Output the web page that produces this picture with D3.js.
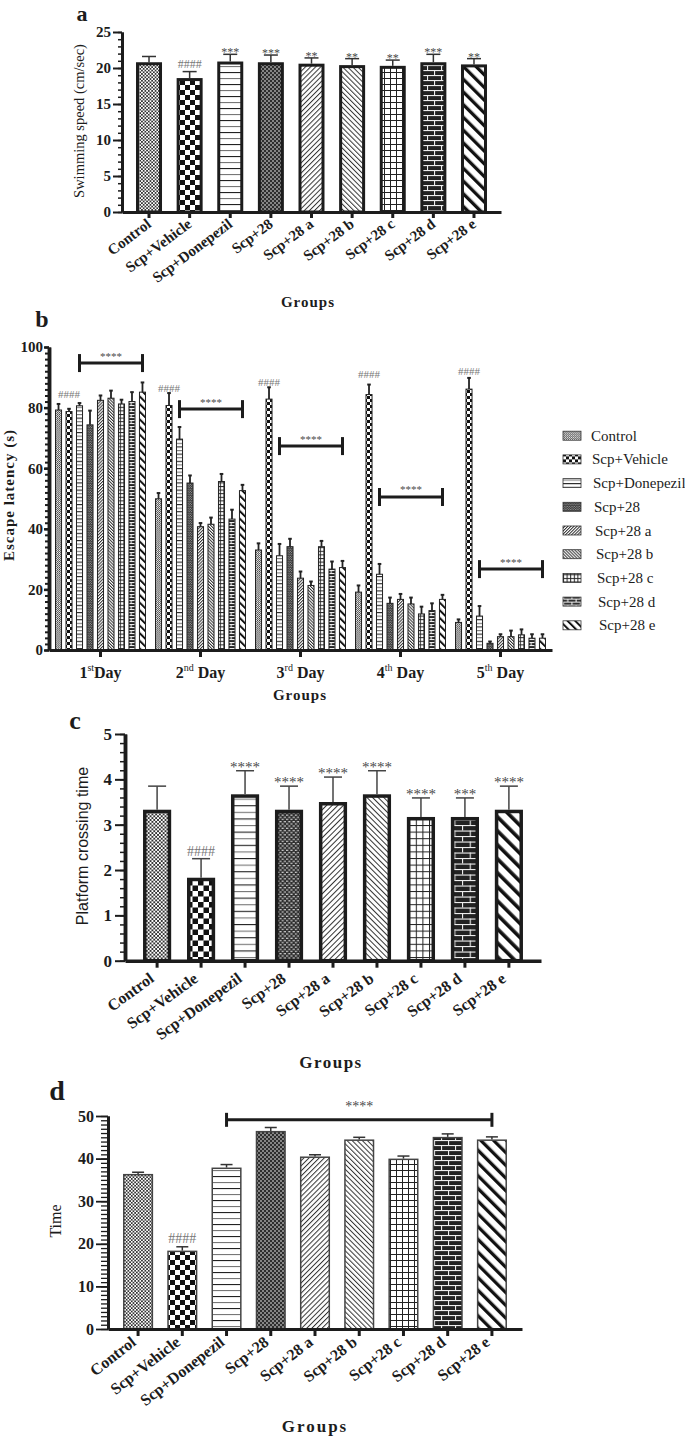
<!DOCTYPE html>
<html><head><meta charset="utf-8">
<script src="https://cdn.jsdelivr.net/npm/d3@7"></script>
<style>body{margin:0;background:#fff}svg{display:block}</style>
</head><body><svg id="chart" width="685" height="1436"></svg>
<script>
// ---------------- DATA ----------------
const groups = ["Control","Scp+Vehicle","Scp+Donepezil","Scp+28","Scp+28 a","Scp+28 b","Scp+28 c","Scp+28 d","Scp+28 e"];

// panel a : swimming speed
const speedMean = [20.8,18.6,20.9,20.8,20.6,20.4,20.3,20.8,20.5];
const speedErr  = [0.8,0.9,1.0,1.0,0.8,0.9,0.8,1.1,0.8];
const speedSig  = ["","####","***","***","**","**","**","***","**"];
const speedTicks = [0,5,10,15,20,25];

// panel b : escape latency
const days = ["1st Day","2nd Day","3rd Day","4th Day","5th Day"];
const dayNum = ["1","2","3","4","5"];
const daySup = ["st","nd","rd","th","th"];
const dayWord = ["Day"," Day"," Day"," Day"," Day"];
const latencyDay1 = [79.2,78.7,80.6,74.3,82.4,83.1,81.2,82.0,85.1];
const latencyErrDay1 = [2.0,0.9,0.9,4.7,1.6,2.5,1.4,3.1,3.2];
const latencyDay2 = [49.9,80.7,69.6,55.1,40.7,41.5,55.6,43.2,52.6];
const latencyErrDay2 = [1.9,4.1,4.0,2.5,1.2,2.2,2.5,3.1,1.9];
const latencyDay3 = [33.0,82.8,31.1,34.1,23.7,21.3,34.1,26.7,27.2];
const latencyErrDay3 = [2.2,3.9,3.9,2.6,2.2,1.3,1.9,2.5,2.2];
const latencyDay4 = [19.1,84.3,25.0,15.4,16.7,15.2,11.9,13.0,16.7];
const latencyErrDay4 = [2.2,3.3,3.4,1.9,1.8,2.1,2.4,2.4,1.5];
const latencyDay5 = [9.1,86.1,11.2,2.2,4.4,4.4,5.0,3.9,3.9];
const latencyErrDay5 = [1.0,3.7,3.3,0.6,0.8,2.0,1.8,1.3,1.3];
const latencyMeans = [latencyDay1,latencyDay2,latencyDay3,latencyDay4,latencyDay5];
const latencyErrs = [latencyErrDay1,latencyErrDay2,latencyErrDay3,latencyErrDay4,latencyErrDay5];
const latencyHash = ["####","####","####","####","####"];
const latencyHashAt = [83.2,85.3,87.1,89.9,90.9];
const latencyBracket = [94.7,79.5,67.3,50.5,26.7];
const latencyBracketSig = ["****","****","****","****","****"];
const latencyTicks = [0,20,40,60,80,100];

// panel c : platform crossing
const crossMean = [3.33,1.83,3.67,3.33,3.5,3.67,3.17,3.17,3.33];
const crossErr  = [0.52,0.42,0.52,0.52,0.55,0.52,0.42,0.42,0.52];
const crossSig  = ["","####","****","****","****","****","****","***","****"];
const crossTicks = [0,1,2,3,4,5];

// panel d : time
const timeMean = [36.4,18.4,37.9,46.5,40.5,44.5,40.0,45.1,44.5];
const timeErr  = [0.4,0.9,0.7,0.8,0.4,0.5,0.6,0.7,0.6];
const timeSig  = ["","####","","","","","","",""];
const timeTicks = [0,10,20,30,40,50];
const timeBracket = 49.1;
const timeBracketSig = "****";

// ---------------- SETUP ----------------
const svg = d3.select("#chart");
svg.append("rect").attr("width",685).attr("height",1436).attr("fill","#fff");
const defs = svg.append("defs");
const SERIF = "'Liberation Serif','Times New Roman',serif";
const SANS = "'Liberation Sans',Arial,sans-serif";
const INK = "#1c1c1c";
const STAR = "#4a4a4a", HASH = "#777";

function addPatterns(prefix, s){
  const P = (i,w,h,rot)=>{
    const p = defs.append("pattern").attr("id",prefix+i).attr("patternUnits","userSpaceOnUse").attr("width",w).attr("height",h);
    if(rot) p.attr("patternTransform",`rotate(${rot})`);
    return p;
  };
  let p;
  p = P(0,3.4*s,3.4*s); p.append("rect").attr("width",3.4*s).attr("height",3.4*s).attr("fill","#fff");
  p.append("rect").attr("width",1.7*s).attr("height",1.7*s).attr("fill","#333");
  p.append("rect").attr("x",1.7*s).attr("y",1.7*s).attr("width",1.7*s).attr("height",1.7*s).attr("fill","#333");
  p = P(1,10*s,10*s); p.append("rect").attr("width",10*s).attr("height",10*s).attr("fill","#fff");
  p.append("rect").attr("width",5*s).attr("height",5*s).attr("fill","#111");
  p.append("rect").attr("x",5*s).attr("y",5*s).attr("width",5*s).attr("height",5*s).attr("fill","#111");
  p = P(2,10,12*s); p.append("rect").attr("width",10).attr("height",12*s).attr("fill","#fff");
  p.append("rect").attr("y",0).attr("width",10).attr("height",1.1).attr("fill","#222");
  p.append("rect").attr("y",6*s).attr("width",10).attr("height",1.1).attr("fill","#777");
  p = P(3,4*s,4*s); p.append("rect").attr("width",4*s).attr("height",4*s).attr("fill","#2e2e2e");
  p.append("rect").attr("x",0).attr("y",0.5*s).attr("width",2*s).attr("height",1*s).attr("fill","#ddd");
  p.append("rect").attr("x",2*s).attr("y",2.5*s).attr("width",2*s).attr("height",1*s).attr("fill","#ddd");
  p = P(4,3.6*s,3.6*s,45); p.append("rect").attr("width",3.6*s).attr("height",3.6*s).attr("fill","#fff");
  p.append("rect").attr("x",0).attr("width",1.0).attr("height",3.6*s).attr("fill","#333");
  p = P(5,3.6*s,3.6*s,-45); p.append("rect").attr("width",3.6*s).attr("height",3.6*s).attr("fill","#fff");
  p.append("rect").attr("x",0).attr("width",1.0).attr("height",3.6*s).attr("fill","#333");
  p = P(6,6*s,6*s); p.append("rect").attr("width",6*s).attr("height",6*s).attr("fill","#fff");
  p.append("rect").attr("width",6*s).attr("height",1).attr("fill","#222");
  p.append("rect").attr("width",1).attr("height",6*s).attr("fill","#222");
  p = P(7,14*s,10*s); p.append("rect").attr("width",14*s).attr("height",10*s).attr("fill","#222");
  p.append("rect").attr("y",0).attr("width",14*s).attr("height",1.1).attr("fill","#eee");
  p.append("rect").attr("y",5*s).attr("width",14*s).attr("height",1.1).attr("fill","#eee");
  p.append("rect").attr("x",0).attr("y",0).attr("width",1.1).attr("height",5*s).attr("fill","#eee");
  p.append("rect").attr("x",7*s).attr("y",5*s).attr("width",1.1).attr("height",5*s).attr("fill","#eee");
  p = P(8,9*s,9*s,-45); p.append("rect").attr("width",9*s).attr("height",9*s).attr("fill","#fff");
  p.append("rect").attr("x",0).attr("width",3.3*s).attr("height",9*s).attr("fill","#111");
}
addPatterns("pa",1); addPatterns("pb",0.6); addPatterns("pc",1.1); addPatterns("pd",1);

function styleAxis(sel, w, tw){
  sel.select(".domain").attr("stroke",INK).attr("stroke-width",w);
  sel.selectAll(".tick line").attr("stroke",INK).attr("stroke-width",tw);
}

// ---------------- SIMPLE PANELS (a, c, d) ----------------
function simplePanel(c){
  const g = svg.append("g");
  const y = d3.scaleLinear().domain(c.yDomain).range(c.yRange);
  const x = d3.scaleBand().domain(groups).range(c.xRange).paddingInner(c.pi).paddingOuter(c.po);
  const y0 = y(0), hw = c.barW/2;
  g.selectAll("rect.bar").data(groups).join("rect").attr("class","bar")
    .attr("x",d=>x(d)+hw).attr("width",x.bandwidth()-c.barW)
    .attr("y",(d,i)=>y(c.means[i])+hw).attr("height",(d,i)=>y0-y(c.means[i])-hw)
    .attr("fill",(d,i)=>`url(#${c.pat}${i})`).attr("stroke",c.barStroke).attr("stroke-width",c.barW);
  const eb = g.selectAll("g.err").data(groups).join("g").attr("class","err")
    .attr("transform",d=>`translate(${x(d)+x.bandwidth()/2},0)`);
  eb.append("line").attr("y1",(d,i)=>y(c.means[i])).attr("y2",(d,i)=>y(c.means[i]+c.errs[i]))
    .attr("stroke",c.errColor).attr("stroke-width",c.errW);
  eb.append("line").attr("x1",-c.cap).attr("x2",c.cap)
    .attr("y1",(d,i)=>y(c.means[i]+c.errs[i])).attr("y2",(d,i)=>y(c.means[i]+c.errs[i]))
    .attr("stroke",c.errColor).attr("stroke-width",c.errW);
  eb.append("text").text((d,i)=>c.sig[i]).attr("text-anchor","middle")
    .attr("y",(d,i)=>y(c.means[i]+c.errs[i]) + (c.sig[i].startsWith("#")?c.hashDy:c.starDy))
    .attr("font-family",SERIF).attr("font-size",(d,i)=>c.sig[i].startsWith("#")?c.hashFont:c.starFont)
    .attr("fill",(d,i)=>c.sig[i].startsWith("#")?HASH:STAR);
  const minor = d3.range(c.yDomain[0], c.yDomain[1]+1e-9, c.minorStep);
  const am = g.append("g").attr("transform",`translate(${c.xRange[0]},0)`)
    .call(d3.axisLeft(y).tickValues(minor).tickSize(c.minorSize).tickFormat("").tickSizeOuter(0));
  styleAxis(am, c.axisW, c.tickW);
  const ay = g.append("g").attr("transform",`translate(${c.xRange[0]},0)`)
    .call(d3.axisLeft(y).tickValues(c.ticks).tickSize(c.majorSize).tickPadding(c.tickPad)
      .tickFormat(d3.format("d")).tickSizeOuter(0));
  styleAxis(ay, c.axisW, c.tickW+0.5);
  ay.selectAll("text").attr("font-family",SERIF).attr("font-weight","bold").attr("font-size",c.tickFont).attr("fill",INK);
  const ax = g.append("g").attr("transform",`translate(0,${y0})`)
    .call(d3.axisBottom(x).tickSize(c.xTick).tickSizeOuter(0));
  styleAxis(ax, c.axisW, 3);
  ax.selectAll("text").attr("x",0).attr("y",0).attr("dy",0).attr("text-anchor","end")
    .attr("transform",`translate(${c.lblDx},${c.lblDy}) rotate(${c.angle})`)
    .attr("font-family",SERIF).attr("font-weight","bold").attr("font-size",c.lblFont).attr("fill",INK);
  g.append("text").text(c.letter).attr("x",c.letterX).attr("y",c.letterY).attr("text-anchor","middle")
    .attr("font-family",SERIF).attr("font-weight","bold").attr("font-size",c.letterFont).attr("fill",INK);
  g.append("text").text(c.ylabel).attr("transform",`translate(${c.ylabelX},${c.ylabelY}) rotate(-90)`)
    .attr("text-anchor","middle").attr("font-family",c.ylabelFamily).attr("font-weight",c.ylabelWeight)
    .attr("font-size",c.ylabelFont).attr("fill",INK);
  g.append("text").text("Groups").attr("x",c.groupsX).attr("y",c.groupsY).attr("text-anchor","middle")
    .attr("font-family",SERIF).attr("font-weight","bold").attr("font-size",c.groupsFont)
    .attr("letter-spacing",c.groupsLS).attr("fill",INK);
  return {g,x,y};
}

// panel a
simplePanel({yDomain:[0,25], yRange:[212,32], xRange:[122,501], pi:0.36, po:0.345,
  means:speedMean, errs:speedErr, sig:speedSig, ticks:speedTicks, minorStep:1,
  majorSize:9, minorSize:4, tickPad:2, tickFont:15, axisW:3, tickW:1.5,
  barW:3, barStroke:INK, pat:"pa", errColor:"#333", errW:1.5, cap:7,
  starFont:12, hashFont:12, starDy:2, hashDy:-4,
  xTick:6, lblDx:3, lblDy:14, angle:-37, lblFont:15,
  letter:"a", letterX:82, letterY:21, letterFont:22,
  ylabel:"Swimming speed (cm/sec)", ylabelX:84, ylabelY:121, ylabelFamily:SERIF, ylabelWeight:"normal", ylabelFont:14.5,
  groupsX:308, groupsY:307, groupsFont:15, groupsLS:1});

// panel c
simplePanel({yDomain:[0,5], yRange:[960.7,734], xRange:[125,541], pi:0.36, po:0.41,
  means:crossMean, errs:crossErr, sig:crossSig, ticks:crossTicks, minorStep:0.2,
  majorSize:10, minorSize:5, tickPad:3, tickFont:17, axisW:3.5, tickW:1.5,
  barW:3.5, barStroke:INK, pat:"pc", errColor:"#444", errW:1.5, cap:9,
  starFont:15, hashFont:14, starDy:1, hashDy:-3,
  xTick:7, lblDx:-2, lblDy:20, angle:-36, lblFont:16,
  letter:"c", letterX:75, letterY:729, letterFont:26,
  ylabel:"Platform crossing time", ylabelX:88, ylabelY:846, ylabelFamily:SANS, ylabelWeight:"normal", ylabelFont:16,
  groupsX:331, groupsY:1068, groupsFont:17, groupsLS:1.5});

// panel d
const pd = simplePanel({yDomain:[0,50], yRange:[1329,1116], xRange:[108,522], pi:0.32, po:0.34,
  means:timeMean, errs:timeErr, sig:timeSig, ticks:timeTicks, minorStep:1,
  majorSize:12, minorSize:7, tickPad:2, tickFont:16, axisW:3, tickW:1.3,
  barW:1.5, barStroke:"#444", pat:"pd", errColor:"#333", errW:1.5, cap:6,
  starFont:14, hashFont:14, starDy:1, hashDy:-4,
  xTick:7, lblDx:-1, lblDy:15, angle:-38, lblFont:16,
  letter:"d", letterX:57, letterY:1100, letterFont:28,
  ylabel:"Time", ylabelX:61, ylabelY:1221, ylabelFamily:SERIF, ylabelWeight:"normal", ylabelFont:16,
  groupsX:315, groupsY:1432, groupsFont:17, groupsLS:2});
{
  const {g,x,y} = pd;
  const x1 = x("Scp+Donepezil")+x.bandwidth()/2, x2 = x("Scp+28 e")+x.bandwidth()/2, yy = y(timeBracket);
  g.append("line").attr("x1",x1).attr("x2",x2).attr("y1",yy).attr("y2",yy).attr("stroke",INK).attr("stroke-width",3);
  [x1,x2].forEach(xx=>g.append("line").attr("x1",xx).attr("x2",xx).attr("y1",yy-7).attr("y2",yy+7).attr("stroke",INK).attr("stroke-width",3));
  g.append("text").text(timeBracketSig).attr("x",(x1+x2)/2).attr("y",yy-9).attr("text-anchor","middle")
    .attr("font-family",SERIF).attr("font-size",14).attr("fill",STAR);
}

// ---------------- PANEL b ----------------
{
  const g = svg.append("g");
  const y = d3.scaleLinear().domain([0,100]).range([650,347]);
  const xB = d3.scaleBand().domain(days).range([49,552]).paddingInner(0.09).paddingOuter(0.06);
  const xIn = d3.scaleBand().domain(groups).range([0,xB.bandwidth()]).paddingInner(0.33).paddingOuter(0);
  const bw = xIn.bandwidth();
  days.forEach((day,di)=>{
    const gg = g.append("g").attr("transform",`translate(${xB(day)},0)`);
    const m = latencyMeans[di], e = latencyErrs[di];
    gg.selectAll("rect").data(groups).join("rect")
      .attr("x",d=>xIn(d)+0.5).attr("width",bw-1)
      .attr("y",(d,i)=>y(m[i])).attr("height",(d,i)=>y(0)-y(m[i]))
      .attr("fill",(d,i)=>`url(#pb${i})`).attr("stroke","#222").attr("stroke-width",1);
    const eb = gg.selectAll("g.err").data(groups).join("g").attr("class","err")
      .attr("transform",d=>`translate(${xIn(d)+bw/2},0)`);
    eb.append("line").attr("y1",(d,i)=>y(m[i])).attr("y2",(d,i)=>y(m[i]+e[i])).attr("stroke","#222").attr("stroke-width",1.8);
    eb.append("line").attr("x1",-1.8).attr("x2",1.8).attr("y1",(d,i)=>y(m[i]+e[i])).attr("y2",(d,i)=>y(m[i]+e[i]))
      .attr("stroke","#222").attr("stroke-width",2);
    gg.append("text").text(latencyHash[di]).attr("x",xIn("Scp+Vehicle")+bw/2).attr("y",y(latencyHashAt[di]))
      .attr("text-anchor","middle").attr("font-family",SERIF).attr("font-size",11).attr("fill",HASH);
    const bx1 = xIn("Scp+Donepezil")+bw/2, bx2 = xIn("Scp+28 e")+bw/2, by = y(latencyBracket[di]);
    gg.append("line").attr("x1",bx1).attr("x2",bx2).attr("y1",by).attr("y2",by).attr("stroke",INK).attr("stroke-width",3);
    [bx1,bx2].forEach(xx=>gg.append("line").attr("x1",xx).attr("x2",xx).attr("y1",by-9).attr("y2",by+9).attr("stroke",INK).attr("stroke-width",3));
    gg.append("text").text(latencyBracketSig[di]).attr("x",(bx1+bx2)/2).attr("y",by-3.5).attr("text-anchor","middle")
      .attr("font-family",SERIF).attr("font-size",11).attr("fill",STAR);
  });
  const am = g.append("g").attr("transform","translate(49,0)")
    .call(d3.axisLeft(y).tickValues(d3.range(0,100.1,2)).tickSize(4).tickFormat("").tickSizeOuter(0));
  styleAxis(am,3.5,2);
  const ay = g.append("g").attr("transform","translate(49,0)")
    .call(d3.axisLeft(y).tickValues(latencyTicks).tickSize(5).tickPadding(1).tickSizeOuter(0));
  styleAxis(ay,3.5,2.5);
  ay.selectAll("text").attr("font-family",SERIF).attr("font-weight","bold").attr("font-size",15).attr("fill",INK);
  const ax = g.append("g").attr("transform","translate(0,650)")
    .call(d3.axisBottom(xB).tickSize(7).tickFormat("").tickSizeOuter(0));
  styleAxis(ax,3,3);
  days.forEach((day,di)=>{
    const t = g.append("text").attr("x",xB(day)+xB.bandwidth()/2).attr("y",678).attr("text-anchor","middle")
      .attr("font-family",SERIF).attr("font-weight","bold").attr("font-size",16).attr("fill",INK);
    t.append("tspan").text(dayNum[di]);
    t.append("tspan").text(daySup[di]).attr("font-size",10).attr("font-weight","normal").attr("dy",-7);
    t.append("tspan").text(dayWord[di]).attr("dy",7);
  });
  g.append("text").text("b").attr("x",42).attr("y",327).attr("text-anchor","middle")
    .attr("font-family",SERIF).attr("font-weight","bold").attr("font-size",24).attr("fill",INK);
  g.append("text").text("Escape latency (s)").attr("transform","translate(14,495) rotate(-90)")
    .attr("text-anchor","middle").attr("font-family",SERIF).attr("font-weight","bold").attr("font-size",15)
    .attr("letter-spacing",1).attr("fill",INK);
  g.append("text").text("Groups").attr("x",300).attr("y",700).attr("text-anchor","middle")
    .attr("font-family",SERIF).attr("font-weight","bold").attr("font-size",15).attr("letter-spacing",1).attr("fill",INK);
  const lg = g.append("g");
  const rows = lg.selectAll("g").data(groups).join("g")
    .attr("transform",(d,i)=>`translate(563,${435.7+i*23.7})`);
  rows.append("rect").attr("x",0).attr("y",-4.5).attr("width",18).attr("height",9)
    .attr("fill",(d,i)=>`url(#pb${i})`).attr("stroke","#333").attr("stroke-width",0.8);
  rows.append("text").text(d=>d).attr("x",(d,i)=>28+i*1.0).attr("y",5)
    .attr("font-family",SERIF).attr("font-size",15).attr("fill",INK);
}
</script></body></html>
